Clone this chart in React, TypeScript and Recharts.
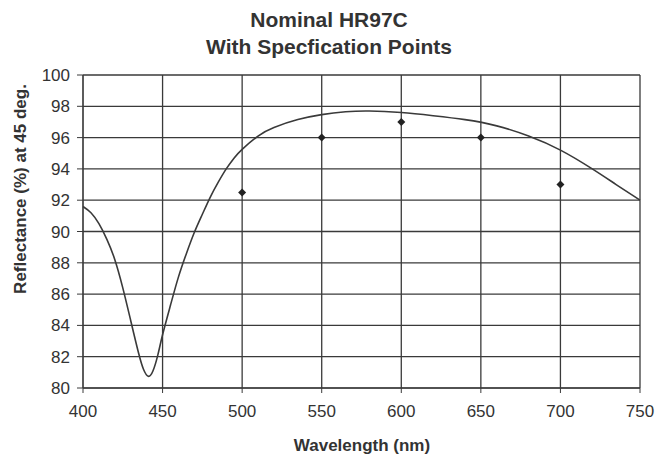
import React from 'react'
import { ComposedChart, Line, XAxis, YAxis, CartesianGrid } from 'recharts'

// nominal reflectance curve
const curveNm = [400, 405, 410, 415, 420, 425, 430, 435, 438, 441, 444, 447, 450, 455, 460, 465, 470, 475, 480, 485, 490, 495, 500, 510, 520, 535, 550, 565, 580, 600, 620, 640, 660, 680, 700, 720, 735, 750]
const curveR = [91.6, 91.2, 90.5, 89.5, 88.2, 86.4, 84.3, 82.2, 81.2, 80.75, 81.1, 82.1, 83.4, 85.3, 87.1, 88.6, 89.95, 91.1, 92.2, 93.15, 94.0, 94.7, 95.25, 96.1, 96.65, 97.15, 97.47, 97.65, 97.7, 97.6, 97.4, 97.15, 96.75, 96.1, 95.2, 94.0, 93.0, 92.0]

// specification points
const specNm = [500, 550, 600, 650, 700]
const specR = [92.5, 96, 97, 96, 93]

const xTicks = [400, 450, 500, 550, 600, 650, 700, 750]
const yTicks = [80, 82, 84, 86, 88, 90, 92, 94, 96, 98, 100]

const curveData = curveNm.map((nm, i) => ({ nm, r: curveR[i] }))
const specData = specNm.map((nm, i) => ({ nm, r: specR[i] }))

const ink = '#333'
const font = '"Liberation Sans", Arial, Helvetica, sans-serif'

const Diamond = (props: any) => {
  const { cx, cy, index } = props
  if (cx == null || cy == null) return null
  const s = 4
  return (
    <path
      key={`d-${index}`}
      d={`M${cx},${cy - s}L${cx + s},${cy}L${cx},${cy + s}L${cx - s},${cy}Z`}
      fill="#222"
    />
  )
}

const App: React.FC = () => {
  return (
    <div style={{ position: 'absolute', left: 0, top: 0, width: 655, height: 458, background: '#fff', fontFamily: font, color: ink }}>
      <div style={{ position: 'absolute', left: 0, top: 6, width: 658, textAlign: 'center', fontWeight: 'bold', fontSize: 21, lineHeight: '27px' }}>
        Nominal HR97C
        <br />
        With Specfication Points
      </div>
      <ComposedChart width={655} height={458} margin={{ top: 75, right: 15, bottom: 30, left: 23 }}>
        <CartesianGrid stroke="#3a3a3a" strokeWidth={1.3} />
        <XAxis
          type="number"
          dataKey="nm"
          domain={[400, 750]}
          ticks={xTicks}
          allowDuplicatedCategory={false}
          height={40}
          tickSize={5}
          tickMargin={12}
          stroke="#3a3a3a"
          tick={{ fill: ink, fontSize: 17, fontFamily: font }}
        />
        <YAxis
          type="number"
          dataKey="r"
          domain={[80, 100]}
          ticks={yTicks}
          width={60}
          tickSize={6}
          tickMargin={7}
          stroke="#3a3a3a"
          tick={{ fill: ink, fontSize: 17, fontFamily: font }}
        />
        <Line
          data={curveData}
          dataKey="r"
          type="natural"
          stroke="#3a3a3a"
          strokeWidth={1.6}
          dot={false}
          activeDot={false}
          isAnimationActive={false}
        />
        <Line
          data={specData}
          dataKey="r"
          stroke="none"
          dot={Diamond}
          activeDot={false}
          isAnimationActive={false}
        />
      </ComposedChart>
      <div style={{ position: 'absolute', left: 262, top: 436, width: 200, textAlign: 'center', fontWeight: 'bold', fontSize: 17, lineHeight: '20px' }}>
        Wavelength (nm)
      </div>
      <div style={{ position: 'absolute', left: 21 - 130, top: 189 - 10, width: 260, height: 20, textAlign: 'center', fontWeight: 'bold', fontSize: 17, lineHeight: '20px', transform: 'rotate(-90deg)', whiteSpace: 'nowrap' }}>
        Reflectance (%) at 45 deg.
      </div>
    </div>
  )
}

export default App
